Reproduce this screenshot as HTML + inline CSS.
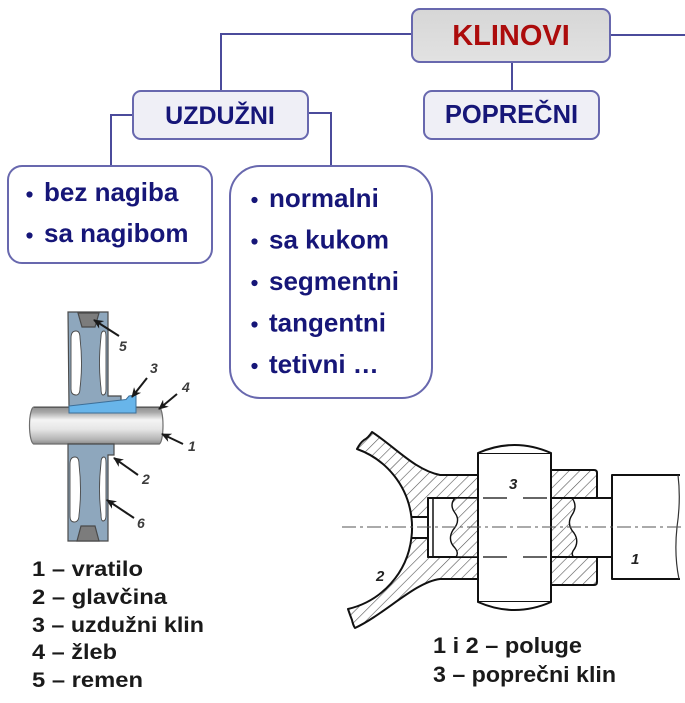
<!DOCTYPE html>
<html>
<head>
<meta charset="utf-8">
<style>
  html, body { margin:0; padding:0; background:#ffffff; }
  body { width:685px; height:703px; overflow:hidden; }
  svg { display:block; }
  .t { font-family:"Liberation Sans", Arial, sans-serif; font-weight:bold; }
</style>
</head>
<body>
<svg width="685" height="703" viewBox="0 0 685 703" xmlns="http://www.w3.org/2000/svg">
  <defs>
    <linearGradient id="shaft" x1="0" y1="0" x2="0" y2="1">
      <stop offset="0" stop-color="#8e8e8e"/>
      <stop offset="0.14" stop-color="#a8a8a8"/>
      <stop offset="0.35" stop-color="#f4f4f4"/>
      <stop offset="0.6" stop-color="#e6e6e6"/>
      <stop offset="0.88" stop-color="#b4b4b4"/>
      <stop offset="1" stop-color="#8a8a8a"/>
    </linearGradient>
    <linearGradient id="kbox" x1="0" y1="0" x2="0" y2="1">
      <stop offset="0" stop-color="#d6d6d6"/>
      <stop offset="1" stop-color="#e2e2e2"/>
    </linearGradient>
    <pattern id="hatch" width="7.5" height="7.5" patternUnits="userSpaceOnUse" patternTransform="rotate(45)">
      <rect width="7.5" height="7.5" fill="#ffffff"/>
      <line x1="0" y1="0" x2="0" y2="7.5" stroke="#555" stroke-width="1.2"/>
    </pattern>
    <marker id="ah" markerWidth="10" markerHeight="10" refX="9" refY="5" orient="auto" markerUnits="userSpaceOnUse">
      <path d="M0,0.5 L10,5 L0,9.5 L3,5 Z" fill="#1a1a1a"/>
    </marker>
  </defs>

  <!-- ===== Connectors ===== -->
  <g stroke="#4b4b9b" stroke-width="2" fill="none">
    <polyline points="412,34 221,34 221,91"/>
    <line x1="610" y1="35" x2="685" y2="35"/>
    <line x1="512" y1="62" x2="512" y2="91"/>
    <polyline points="133,115 111,115 111,166"/>
    <polyline points="308,113 331,113 331,166"/>
  </g>

  <!-- ===== Boxes ===== -->
  <rect x="412" y="9" width="198" height="53" rx="8" fill="url(#kbox)" stroke="#6868ae" stroke-width="2"/>
  <rect x="133" y="91" width="175" height="48" rx="8" fill="#efeff6" stroke="#6868ae" stroke-width="2"/>
  <rect x="424" y="91" width="175" height="48" rx="8" fill="#efeff6" stroke="#6868ae" stroke-width="2"/>
  <rect x="8" y="166" width="204" height="97" rx="14" fill="#ffffff" stroke="#6868ae" stroke-width="2"/>
  <rect x="230" y="166" width="202" height="232" rx="30" fill="#ffffff" stroke="#6868ae" stroke-width="2"/>

  <!-- ===== Box text ===== -->
  <text class="t" x="511" y="45" font-size="29" fill="#ac0c0c" text-anchor="middle">KLINOVI</text>
  <text class="t" x="220" y="124" font-size="25" fill="#161678" text-anchor="middle">UZDUŽNI</text>
  <text class="t" x="511.5" y="123" font-size="25.5" fill="#161678" text-anchor="middle">POPREČNI</text>

  <g fill="#161678">
    <circle cx="29.5" cy="194.5" r="3.1"/>
    <circle cx="29.5" cy="235.5" r="3.1"/>
    <circle cx="254.5" cy="200" r="3.1"/>
    <circle cx="254.5" cy="241.5" r="3.1"/>
    <circle cx="254.5" cy="283" r="3.1"/>
    <circle cx="254.5" cy="324.5" r="3.1"/>
    <circle cx="254.5" cy="366" r="3.1"/>
  </g>
  <g class="t" font-size="26" fill="#161678">
    <text x="44" y="201">bez nagiba</text>
    <text x="44" y="242">sa nagibom</text>
    <text x="269" y="207">normalni</text>
    <text x="269" y="248.5">sa kukom</text>
    <text x="269" y="290">segmentni</text>
    <text x="269" y="331.5">tangentni</text>
    <text x="269" y="373">tetivni …</text>
  </g>

  <!-- ===== Left illustration: wheel, shaft, key ===== -->
  <path d="M34,407 H159 A4,18.5 0 0 1 159,444 H34 A4.5,18.5 0 0 1 34,407 Z" fill="url(#shaft)" stroke="#6e6e6e" stroke-width="1.2"/>
  <line x1="34" y1="407.5" x2="160" y2="407.5" stroke="#5a5a5a" stroke-width="1"/>

  <!-- upper wheel half -->
  <g stroke="#4a4a4a" stroke-width="1.2">
    <path d="M68,312 H108 V396 H121 V402 L69,407 Z" fill="#8ea7bd"/>
    <path d="M71,338 Q71,331 76,331 Q80,331 80,338 Q83,364 80,388 Q80,395 76,395 Q71,395 71,389 Z" fill="#ffffff" stroke-width="0.9"/>
    <path d="M101,337 Q101,331 104,331 Q106,331 106,337 V389 Q106,395 103,395 Q101,395 101,388 Q98,364 101,337 Z" fill="#ffffff" stroke-width="0.9"/>
    <polygon points="78,313 99,313 95,327 82,327" fill="#7c7c7c"/>
  </g>
  <polygon points="69,406 126,399.5 129,396 136,395 136,413 69,413" fill="#68b5ea" stroke="#3d6f98" stroke-width="1"/>

  <!-- lower wheel half -->
  <g stroke="#4a4a4a" stroke-width="1.2">
    <path d="M68,444 H114 V455 H108 V541 H68 Z" fill="#8ea7bd"/>
    <path d="M70,464 Q70,457 75,457 Q79,457 79,464 Q82,490 79,515 Q79,522 74,522 Q70,522 70,516 Z" fill="#ffffff" stroke-width="0.9"/>
    <path d="M101,463 Q101,457 104,457 Q106,457 106,463 V515 Q106,521 103,521 Q101,521 101,514 Q98,490 101,463 Z" fill="#ffffff" stroke-width="0.9"/>
    <polygon points="81,526 95,526 99,541 77,541" fill="#7c7c7c"/>
  </g>

  <!-- arrows -->
  <g stroke="#1a1a1a" stroke-width="2" fill="none" marker-end="url(#ah)">
    <line x1="119" y1="336" x2="94" y2="320"/>
    <line x1="147" y1="378" x2="132" y2="397"/>
    <line x1="177" y1="394" x2="159" y2="409"/>
    <line x1="183" y1="444" x2="162" y2="434"/>
    <line x1="138" y1="475" x2="114" y2="458"/>
    <line x1="134" y1="518" x2="107" y2="500"/>
  </g>
  <g class="t" font-size="14" font-style="italic" fill="#3c3c3c">
    <text x="119" y="351">5</text>
    <text x="150" y="373">3</text>
    <text x="182" y="392">4</text>
    <text x="188" y="451">1</text>
    <text x="142" y="484">2</text>
    <text x="137" y="528">6</text>
  </g>

  <!-- left legend -->
  <g class="t" font-size="21.5" fill="#1a1a1a">
    <text x="32" y="576" textLength="111" lengthAdjust="spacingAndGlyphs">1 – vratilo</text>
    <text x="32" y="604" textLength="135" lengthAdjust="spacingAndGlyphs">2 – glavčina</text>
    <text x="32" y="632" textLength="172" lengthAdjust="spacingAndGlyphs">3 – uzdužni klin</text>
    <text x="32" y="659" textLength="85" lengthAdjust="spacingAndGlyphs">4 – žleb</text>
    <text x="32" y="687" textLength="111" lengthAdjust="spacingAndGlyphs">5 – remen</text>
  </g>

  <!-- ===== Right illustration: transverse key ===== -->
  <g stroke="#111" stroke-width="2" stroke-linejoin="round">
    <path d="M357,449 A83,83 0 0 1 411.4,517 H428 V498 H478 V475 H440 C415,470 395,447 372,432 Q368,438 364,440 Q360,443 357,449 Z" fill="url(#hatch)"/>
    <path d="M411.4,538 A83,83 0 0 1 348,609 Q350,615 352,620 Q353,625 355,628 C385,614 415,582 440,579 H478 V557 H428 V538 Z" fill="url(#hatch)"/>
    <path d="M411.4,517 A83,83 0 0 1 411.4,538" fill="none"/>

    <rect x="428" y="498" width="184" height="59" fill="#ffffff"/>
    <line x1="433" y1="498" x2="433" y2="557" stroke-width="1.5"/>

    <path d="M478,498 H455 Q449,505 455,513 Q461,521 453,530 Q447,540 455,548 Q459,553 456,557 H478 Z" fill="url(#hatch)" stroke-width="1.4"/>
    <path d="M551,498 H572 Q578,506 572,515 Q566,524 574,533 Q580,542 573,551 Q571,555 574,557 H551 Z" fill="url(#hatch)" stroke-width="1.4"/>

    <path d="M551,470 H594 Q597,470 597,473 V498 H551 Z" fill="url(#hatch)"/>
    <path d="M551,557 H597 V582 Q597,585 594,585 H551 Z" fill="url(#hatch)"/>
    <line x1="551" y1="498" x2="612" y2="498"/>
    <line x1="551" y1="557" x2="612" y2="557"/>

    <rect x="478" y="453" width="73" height="149" fill="#ffffff"/>
    <path d="M478,453 Q514.5,437 551,453" fill="#ffffff"/>
    <path d="M478,602 Q514.5,618 551,602" fill="#ffffff"/>

    <rect x="612" y="475" width="68" height="104" fill="#ffffff" stroke="none"/>
    <path d="M680,475 H612 V579 H680" fill="none"/>
  </g>
  <path d="M678,475 Q681,500 677,527 Q674,555 679,579" fill="none" stroke="#333" stroke-width="1.2"/>

  <g stroke="#333" stroke-width="1.5" stroke-dasharray="24,16">
    <line x1="483" y1="498" x2="549" y2="498"/>
    <line x1="483" y1="557" x2="549" y2="557"/>
  </g>

  <line x1="342" y1="527" x2="684" y2="527" stroke="#555" stroke-width="1.1" stroke-dasharray="14,4,3,4"/>

  <g class="t" font-size="15" font-style="italic" fill="#222">
    <text x="509" y="489">3</text>
    <text x="631" y="564">1</text>
    <text x="376" y="581">2</text>
  </g>

  <g class="t" font-size="22" fill="#1a1a1a">
    <text x="433" y="653" textLength="149" lengthAdjust="spacingAndGlyphs">1 i 2 – poluge</text>
    <text x="433" y="682" textLength="183" lengthAdjust="spacingAndGlyphs">3 – poprečni klin</text>
  </g>
</svg>
</body>
</html>
